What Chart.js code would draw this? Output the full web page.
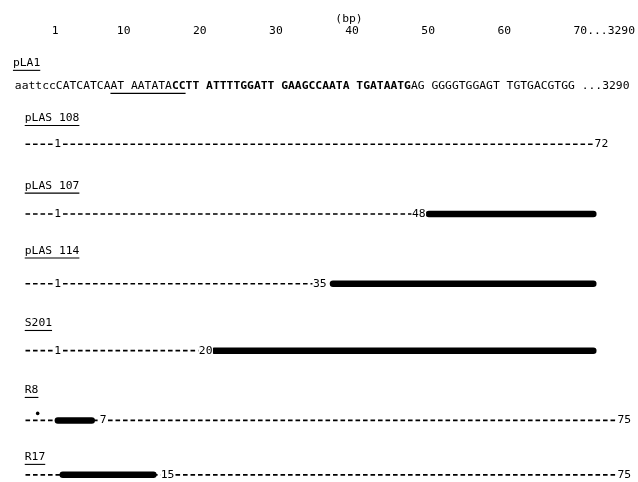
<!DOCTYPE html>
<html>
<head>
<meta charset="utf-8">
<script src="https://cdn.jsdelivr.net/npm/chart.js@4/dist/chart.umd.min.js"></script>
<style>
  html, body { margin: 0; background: #fff; }
  #wrap { width: 638px; height: 482px; }
</style>
</head>
<body>
<div id="wrap"><canvas id="seqChart"></canvas></div>
<script>
// top ruler (bp)
const tickBp = [1, 10, 20, 30, 40, 50, 60, 70];
const tickText = ['1', '10', '20', '30', '40', '50', '60', '70...3290'];

// pLA1 sequence, [text, bold]
const seqName = 'pLA1';
const seqParts = [
  ['aattccCATCATCAAT AATATA', false],
  ['CCTT ATTTTGGATT GAAGCCAATA TGATAATG', true],
  ['AG GGGGTGGAGT TGTGACGTGG ...3290', false]
];
const seqUnderline = [14, 25]; // char range

// constructs
const constructs = ['pLAS 108', 'pLAS 107', 'pLAS 114', 'S201', 'R8', 'R17'];
const dashEnd = [72, 48, 35, 20, 75, 75];
const barFrom = [null, 50.1, 37.5, 21.9, 1.35, 2.0];
const barTo = [null, 71.7, 71.7, 71.7, 5.8, 13.9];
const numLabels = [[1, 72], [1, 48], [1, 35], [1, 20], [7, 75], [15, 75]];
const dotAt = [null, null, null, null, -1.3, null];

// layout (row units)
const rowLine = [0, 1, 2, 2.96, 3.96, 4.74];
const rowTitle = [-0.37, 0.6, 1.53, 2.57, 3.53, 4.49];
const seqRow = -0.83, seqTitleRow = -1.16, bpRow = -1.8;
const lineStart = -2.9, seqStart = -4.3, titleLeft = -3.0, seqTitleLeft = -4.55;

const ink = '#000';
const mono = '"DejaVu Sans Mono", monospace';
const fontSize = 11.35;

const datasets = [];
constructs.forEach((name, i) => {
  datasets.push({
    label: name + ' dashes',
    data: [{ x: lineStart, y: rowLine[i] }, { x: dashEnd[i], y: rowLine[i] }],
    borderColor: ink,
    borderWidth: 1.7,
    borderDash: [4.6, 2.9],
    pointRadius: 0
  });
  if (barFrom[i] !== null) {
    datasets.push({
      label: name + ' kept',
      data: [{ x: barFrom[i], y: rowLine[i] }, { x: barTo[i], y: rowLine[i] }],
      borderColor: ink,
      borderWidth: 6.5,
      borderCapStyle: 'round',
      pointRadius: 0
    });
  }
});

function underline(ctx, x0, x1, y) {
  ctx.save();
  ctx.strokeStyle = ink;
  ctx.lineWidth = 1.1;
  ctx.beginPath();
  ctx.moveTo(x0, y);
  ctx.lineTo(x1, y);
  ctx.stroke();
  ctx.restore();
}

const textLayer = {
  id: 'textLayer',
  afterDatasetsDraw(chart) {
    const { ctx, scales: { x, y } } = chart;
    ctx.save();
    ctx.fillStyle = ink;
    ctx.textBaseline = 'middle';
    ctx.textAlign = 'left';
    ctx.font = fontSize + 'px ' + mono;

    // (bp)
    ctx.textAlign = 'center';
    ctx.fillText('(bp)', x.getPixelForValue(40) - 3, y.getPixelForValue(bpRow));
    ctx.textAlign = 'left';

    // pLA1 title + sequence
    const tx = x.getPixelForValue(seqTitleLeft);
    const ty = y.getPixelForValue(seqTitleRow);
    ctx.fillText(seqName, tx, ty);
    underline(ctx, tx, tx + ctx.measureText(seqName).width, ty + 7);

    let sx = x.getPixelForValue(seqStart);
    const sy = y.getPixelForValue(seqRow);
    const cw = ctx.measureText('A').width;
    seqParts.forEach(([txt, bold]) => {
      ctx.font = (bold ? 'bold ' : '') + fontSize + 'px ' + mono;
      ctx.fillText(txt, sx, sy);
      sx += cw * txt.length;
    });
    ctx.font = fontSize + 'px ' + mono;
    const s0 = x.getPixelForValue(seqStart);
    underline(ctx, s0 + cw * seqUnderline[0], s0 + cw * seqUnderline[1], sy + 7);

    // construct titles, number labels, dot
    constructs.forEach((name, i) => {
      const lx = x.getPixelForValue(titleLeft);
      const ly = y.getPixelForValue(rowTitle[i]);
      ctx.fillText(name, lx, ly);
      underline(ctx, lx, lx + ctx.measureText(name).width, ly + 7);

      const py = y.getPixelForValue(rowLine[i]);
      numLabels[i].forEach(n => {
        const t = String(n);
        const px = x.getPixelForValue(n) - 1;
        const w = ctx.measureText(t).width;
        ctx.fillStyle = '#fff';
        ctx.fillRect(px - 0.5, py - 4, w + 1, 8);
        ctx.fillStyle = ink;
        ctx.fillText(t, px, py);
      });

      if (dotAt[i] !== null) {
        ctx.beginPath();
        ctx.arc(x.getPixelForValue(dotAt[i]), py - 7, 1.8, 0, Math.PI * 2);
        ctx.fill();
      }
    });
    ctx.restore();
  }
};

new Chart(document.getElementById('seqChart'), {
  type: 'line',
  data: { datasets },
  options: {
    responsive: true,
    maintainAspectRatio: false,
    animation: false,
    layout: { padding: { top: 21, left: 0, right: 0, bottom: 0 } },
    plugins: { legend: { display: false }, tooltip: { enabled: false } },
    scales: {
      x: {
        type: 'linear',
        position: 'top',
        min: -6.25,
        max: 77.37,
        grid: { display: false, drawTicks: false },
        border: { display: false },
        afterBuildTicks: (scale) => { scale.ticks = tickBp.map(v => ({ value: v })); },
        ticks: {
          autoSkip: false,
          maxRotation: 0,
          minRotation: 0,
          color: ink,
          font: { family: mono, size: fontSize },
          callback: (value) => {
            const t = tickText[tickBp.indexOf(value)];
            return t.length > 2 ? ' '.repeat(t.length - 2) + t : t;
          }
        }
      },
      y: {
        type: 'linear',
        display: false,
        reverse: true,
        min: -1.486,
        max: 4.843
      }
    }
  },
  plugins: [textLayer]
});
</script>
</body>
</html>
